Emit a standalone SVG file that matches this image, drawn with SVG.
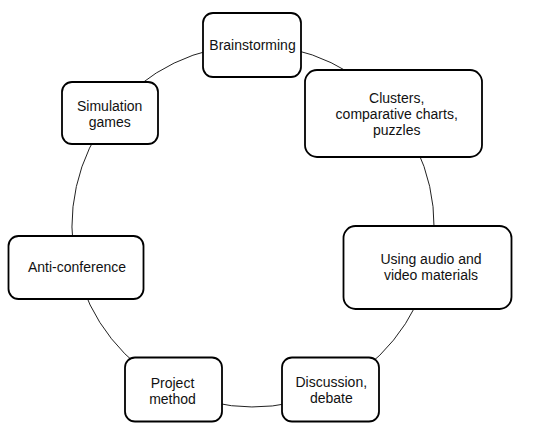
<svg xmlns="http://www.w3.org/2000/svg" width="533" height="438" viewBox="0 0 533 438">
<style>
.node rect{fill:#fff;stroke:#000;stroke-width:1.8}
.node text{font-family:"Liberation Sans",Arial,sans-serif;font-size:14px;fill:#111;text-anchor:middle}
.conn path{fill:none;stroke:#222;stroke-width:1}
</style>
<rect width="533" height="438" fill="#fff"/>
<g id="connectors" class="conn">
<path d="M253,45 A181,181 0 0 1 393.9,112.3"/>
<path d="M393.9,112.3 A181,181 0 0 1 429,268.5"/>
<path d="M429,268.5 A181,181 0 0 1 330.6,389.5"/>
<path d="M330.6,389.5 A181,181 0 0 1 173.4,388.5"/>
<path d="M173.4,388.5 A181,181 0 0 1 76.8,267.3"/>
<path d="M76.8,267.3 A181,181 0 0 1 111,113.7"/>
<path d="M111,113.7 A181,181 0 0 1 253,45"/>
</g>
<g id="brainstorming" class="node">
<rect x="203" y="13" width="98" height="64" rx="10"/>
<text x="252.5" y="50">Brainstorming</text>
</g>
<g id="clusters" class="node">
<rect x="305" y="70" width="177" height="87" rx="12"/>
<text x="396.7" y="102.5">Clusters,</text>
<text x="396.7" y="118.5">comparative charts,</text>
<text x="396.7" y="134.5">puzzles</text>
</g>
<g id="audio-video" class="node">
<rect x="343.5" y="226" width="168" height="83" rx="12"/>
<text x="431" y="264.3">Using audio and</text>
<text x="431" y="280">video materials</text>
</g>
<g id="discussion" class="node">
<rect x="282" y="357.5" width="97" height="64" rx="10"/>
<text x="331.3" y="386.7">Discussion,</text>
<text x="331.3" y="402.7">debate</text>
</g>
<g id="project" class="node">
<rect x="125" y="357.5" width="97" height="64" rx="10"/>
<text x="172.5" y="388.3">Project</text>
<text x="172.5" y="404">method</text>
</g>
<g id="anti-conference" class="node">
<rect x="8.5" y="236" width="135" height="63" rx="10"/>
<text x="77" y="272.3">Anti-conference</text>
</g>
<g id="simulation" class="node">
<rect x="62" y="82" width="96" height="62" rx="10"/>
<text x="109.7" y="111">Simulation</text>
<text x="109.7" y="127">games</text>
</g>
</svg>
